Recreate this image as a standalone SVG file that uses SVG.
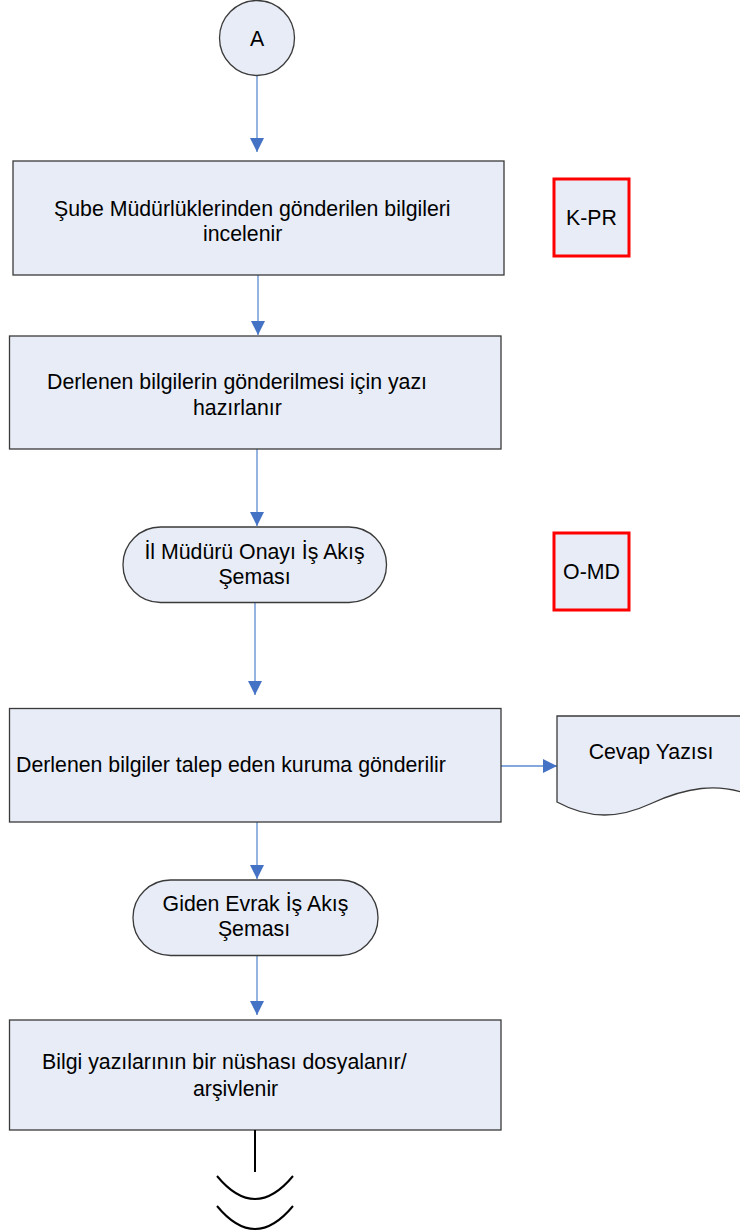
<svg xmlns="http://www.w3.org/2000/svg" width="740" height="1232" viewBox="0 0 740 1232">
<style>
.n{fill:#E7ECF6;stroke:#3a3a3a;stroke-width:1.3}
.r{fill:#E7ECF6;stroke:#FF0000;stroke-width:3}
.t{font-family:"Liberation Sans",Arial,sans-serif;font-size:21.3px;fill:#000}
.c{fill:none;stroke:#5B8BD0;stroke-width:1.3}
.e{fill:none;stroke:#000;stroke-width:2}
</style>
<defs>
<marker id="ah" markerUnits="userSpaceOnUse" markerWidth="14" markerHeight="14" refX="14" refY="7" orient="auto">
<path d="M0,0 L14,7 L0,14 Z" fill="#4472C4"/>
</marker>
</defs>
<rect width="740" height="1232" fill="#fff"/>
<g id="connectors">
<line class="c" x1="257" y1="76" x2="257" y2="152" marker-end="url(#ah)"/>
<line class="c" x1="258" y1="275" x2="258" y2="335" marker-end="url(#ah)"/>
<line class="c" x1="257" y1="449" x2="257" y2="526" marker-end="url(#ah)"/>
<line class="c" x1="255" y1="603" x2="255" y2="695" marker-end="url(#ah)"/>
<line class="c" x1="501" y1="766" x2="557" y2="766" marker-end="url(#ah)"/>
<line class="c" x1="257" y1="822" x2="257" y2="879" marker-end="url(#ah)"/>
<line class="c" x1="257" y1="955" x2="257" y2="1015" marker-end="url(#ah)"/>
</g>
<g id="nodeA">
<circle class="n" cx="257" cy="38" r="37.5"/>
<text class="t" x="257" y="46" text-anchor="middle">A</text>
</g>
<g id="box1">
<rect class="n" x="13" y="161" width="491" height="114"/>
<text class="t" x="54" y="216">Şube Müdürlüklerinden gönderilen bilgileri</text>
<text class="t" x="203" y="241">incelenir</text>
</g>
<g id="kpr">
<rect class="r" x="554" y="179" width="75" height="77"/>
<text class="t" x="591.5" y="225" text-anchor="middle">K-PR</text>
</g>
<g id="box2">
<rect class="n" x="9.5" y="336" width="491.5" height="113"/>
<text class="t" x="47" y="389">Derlenen bilgilerin gönderilmesi için yazı</text>
<text class="t" x="193" y="415">hazırlanır</text>
</g>
<g id="term1">
<rect class="n" x="123" y="527" width="263.5" height="75.5" rx="37.5" ry="37.5"/>
<text class="t" x="254.5" y="559" text-anchor="middle">İl Müdürü Onayı İş Akış</text>
<text class="t" x="254.5" y="584" text-anchor="middle">Şeması</text>
</g>
<g id="omd">
<rect class="r" x="554" y="533" width="75" height="77"/>
<text class="t" x="591.5" y="579" text-anchor="middle">O-MD</text>
</g>
<g id="box3">
<rect class="n" x="9.5" y="708.5" width="491.5" height="113.5"/>
<text class="t" x="16" y="772">Derlenen bilgiler talep eden kuruma gönderilir</text>
</g>
<g id="doc">
<path class="n" d="M557,716 H760 V800 C720,778 680,790 650,804 C620,818 590,820 557,802 Z"/>
<text class="t" x="651" y="759" text-anchor="middle">Cevap Yazısı</text>
</g>
<g id="term2">
<rect class="n" x="133" y="880" width="245" height="75.5" rx="37.5" ry="37.5"/>
<text class="t" x="255.5" y="911" text-anchor="middle">Giden Evrak İş Akış</text>
<text class="t" x="254" y="936" text-anchor="middle">Şeması</text>
</g>
<g id="box4">
<rect class="n" x="9.5" y="1020" width="491.5" height="110"/>
<text class="t" x="42" y="1069">Bilgi yazılarının bir nüshası dosyalanır/</text>
<text class="t" x="193" y="1096">arşivlenir</text>
</g>
<g id="end">
<line class="e" x1="255" y1="1130" x2="255" y2="1172"/>
<path class="e" d="M217,1176 Q255,1222 293,1176"/>
<path class="e" d="M217,1206 Q255,1252 293,1206"/>
</g>
</svg>
